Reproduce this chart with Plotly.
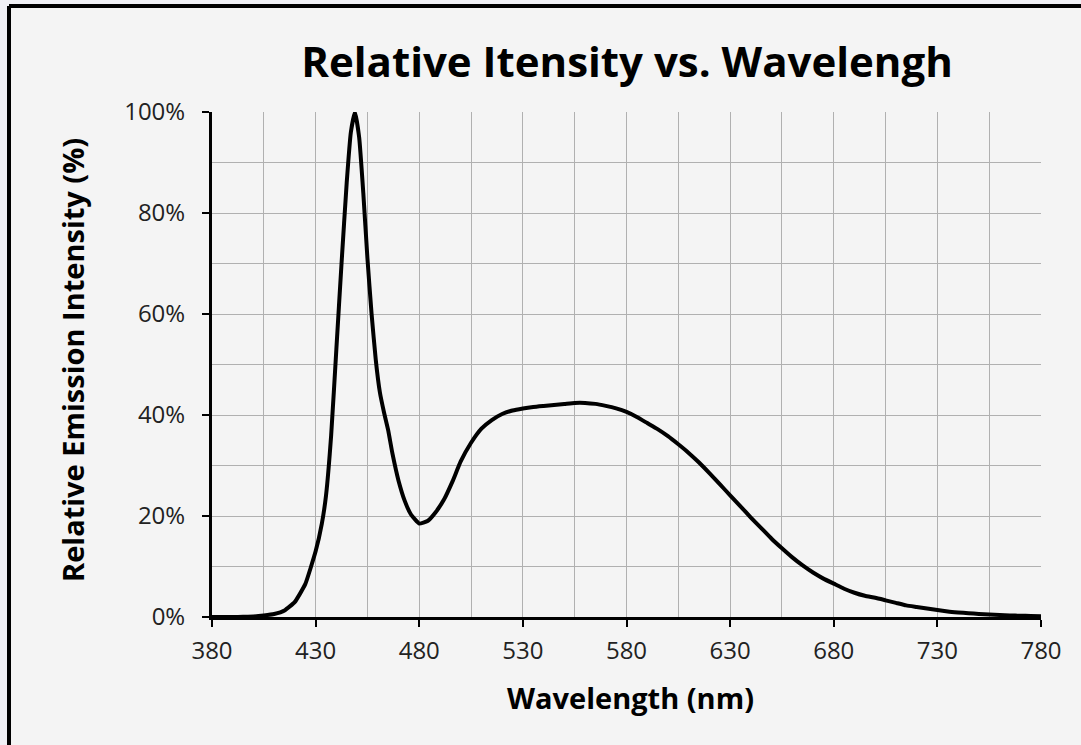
import plotly.graph_objects as go

# Wavelength (nm) and relative emission intensity (%)
wavelength = [380, 385, 390, 395, 400, 405, 410, 415, 420, 425, 430, 433, 435, 437.5, 440,
              442.5, 445, 447, 449, 451, 453, 455, 457, 459, 461, 463, 465, 467, 470,
              473, 476, 480, 484, 488, 492, 496, 500, 505, 510, 515, 520, 525, 530,
              535, 540, 545, 550, 555, 560, 565, 570, 575, 580, 585, 590, 595, 600,
              605, 610, 615, 620, 625, 630, 635, 640, 645, 650, 655, 660, 665, 670,
              675, 680, 685, 690, 695, 700, 705, 710, 715, 720, 725, 730, 735, 740,
              745, 750, 755, 760, 765, 770, 775, 780]
intensity = [0.0, 0.0, 0.0, 0.05, 0.1, 0.3, 0.6, 1.3, 3.0, 6.5, 13.0, 18.5, 24.0, 36.0, 53.0,
             70.0, 86.0, 96.0, 100.0, 95.0, 84.0, 71.0, 60.0, 51.0, 44.5, 40.5, 37.0, 32.5, 27.0,
             23.0, 20.3, 18.5, 19.0, 20.8, 23.3, 26.8, 30.8, 34.5, 37.3, 39.0, 40.2, 40.9, 41.3,
             41.6, 41.8, 42.0, 42.2, 42.4, 42.4, 42.2, 41.8, 41.3, 40.6, 39.6, 38.4, 37.2, 35.8,
             34.2, 32.5, 30.6, 28.5, 26.3, 24.1, 21.9, 19.7, 17.6, 15.5, 13.6, 11.8, 10.2, 8.8,
             7.6, 6.6, 5.6, 4.8, 4.2, 3.8, 3.3, 2.8, 2.3, 2.0, 1.7, 1.4, 1.1, 0.9,
             0.75, 0.6, 0.5, 0.4, 0.3, 0.25, 0.2, 0.15]

x_ticks = [380, 430, 480, 530, 580, 630, 680, 730, 780]
y_ticks = [0, 20, 40, 60, 80, 100]

title_text = "<b>Relative Itensity vs. Wavelengh</b>"
x_title = "<b>Wavelength (nm)</b>"
y_title = "<b>Relative Emission Intensity (%)</b>"

FONT = "Open Sans"
W, H = 1081, 745
L, R, T, B = 212, 40, 112, 128
pw, ph = W - L - R, H - T - B

def px_x(p):
    return (p - L) / pw

def px_y(p):
    return (H - B - p) / ph

fig = go.Figure()
fig.add_trace(go.Scatter(
    x=wavelength, y=intensity, mode="lines",
    line=dict(color="black", width=4, shape="spline", smoothing=0.4),
    showlegend=False,
))

grid = "#b0b0b0"
fig.update_xaxes(
    range=[380, 780], tickvals=x_ticks, ticktext=[str(v) for v in x_ticks],
    showgrid=True, gridcolor=grid, gridwidth=1,
    minor=dict(dtick=25, tick0=380, showgrid=True, gridcolor=grid, gridwidth=1, ticks=""),
    showline=True, linecolor="black", linewidth=3,
    ticks="outside", ticklen=7, tickwidth=2, tickcolor="black",
    tickfont=dict(family=FONT, size=24, color="#222"), zeroline=False,
    ticklabelstandoff=3,
)
fig.update_yaxes(
    range=[0, 100], tickvals=y_ticks, ticktext=[f"{v}%" for v in y_ticks],
    showgrid=True, gridcolor=grid, gridwidth=1,
    minor=dict(dtick=10, tick0=0, showgrid=True, gridcolor=grid, gridwidth=1, ticks=""),
    showline=True, linecolor="black", linewidth=3,
    ticks="outside", ticklen=7, tickwidth=2, tickcolor="black",
    tickfont=dict(family=FONT, size=24, color="#222"), zeroline=False,
    ticklabelstandoff=12,
)

# Outer light strips (outside the frame) and the frame's top and left edges
outside = "#f0f0f5"
fig.add_shape(type="rect", xref="paper", yref="paper",
              x0=px_x(0), x1=px_x(9), y0=px_y(H), y1=px_y(0),
              line=dict(width=0), fillcolor=outside, layer="below")
fig.add_shape(type="rect", xref="paper", yref="paper",
              x0=px_x(0), x1=px_x(W), y0=px_y(6), y1=px_y(0),
              line=dict(width=0), fillcolor=outside, layer="below")
fig.add_shape(type="line", xref="paper", yref="paper",
              x0=px_x(9), x1=px_x(W), y0=px_y(6), y1=px_y(6),
              line=dict(color="black", width=4), layer="below")
fig.add_shape(type="line", xref="paper", yref="paper",
              x0=px_x(9), x1=px_x(9), y0=px_y(H), y1=px_y(6),
              line=dict(color="black", width=4), layer="below")

fig.add_annotation(text=x_title, xref="paper", yref="paper", x=px_x(630), y=px_y(697),
                   showarrow=False, font=dict(family=FONT, size=29, color="black"),
                   xanchor="center", yanchor="middle")
fig.add_annotation(text=y_title, xref="paper", yref="paper", x=px_x(72), y=px_y(360),
                   showarrow=False, textangle=-90, font=dict(family=FONT, size=29, color="black"),
                   xanchor="center", yanchor="middle")

fig.update_layout(
    width=W, height=H,
    margin=dict(l=L, r=R, t=T, b=B),
    paper_bgcolor="#f4f4f4", plot_bgcolor="rgba(0,0,0,0)",
    title=dict(text=title_text, x=px_x(627), xref="paper", xanchor="center",
               y=1 - 62 / H, yanchor="middle", yref="container",
               font=dict(family=FONT, size=42, color="black")),
)

fig.write_html("out.html", config={"displayModeBar": False},
               post_script="document.body.style.margin='0';document.body.style.overflow='hidden';")
